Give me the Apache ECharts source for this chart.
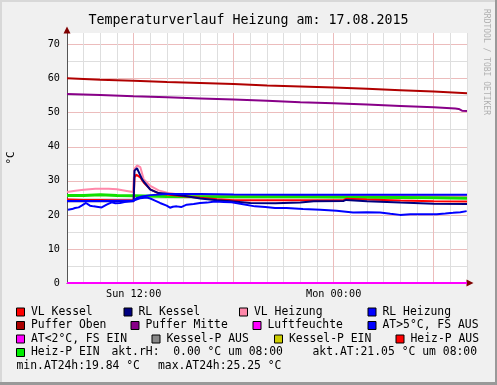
<!DOCTYPE html>
<html><head><meta charset="utf-8">
<script src="https://cdn.jsdelivr.net/npm/echarts@6/dist/echarts.min.js"></script>
<style>html,body{margin:0;padding:0;background:#f0f0f0}#c{width:497px;height:385px}</style>
</head><body><div id="c"></div>
<script>
// ---------- data (hours since Sun 00:00, °C) ----------
const chartTitle = 'Temperaturverlauf Heizung am: 17.08.2015';
const xLabelHours = [12, 24];
const xLabelTexts = ['Sun 12:00', 'Mon 00:00'];
const yLabelValues = [0, 10, 20, 30, 40, 50, 60, 70];

const pufferOben = [[8,60.1],[10,59.7],[12,59.4],[14,59.0],[16,58.7],[18,58.4],[20,58.0],[22,57.7],[24,57.4],[26,57.0],[28,56.6],[30,56.2],[32,55.7]];
const pufferMitte = [[8,55.5],[10,55.2],[12,54.8],[14,54.5],[16,54.2],[18,53.9],[20,53.5],[22,53.1],[24,52.8],[26,52.4],[28,52.0],[30,51.6],[31.3,51.2],[31.5,51.1],[31.7,50.6],[32,50.5]];
const vlHeizung = [[8,26.7],[8.5,27.1],[9,27.4],[9.7,27.7],[10.5,27.7],[11,27.5],[11.5,27.1],[11.95,26.7],[12.0,26.6],[12.05,33.5],[12.2,34.5],[12.4,34.0],[12.6,30.5],[13,28.5],[13.5,27.2],[14,26.5],[14.5,26.1],[15,25.9],[16,25.7],[20,25.6],[26,25.6],[32,25.5]];
const heizPEin = [[8,25.7],[9,25.7],[10,25.9],[11,25.7],[12,25.6],[14,25.4],[18,25.3],[22,25.3],[26,25.2],[30,25.0],[32,24.9]];
const vlKessel = [[8,24.5],[9,24.4],[10,24.4],[11,24.3],[12,24.3],[12.05,31.0],[12.15,31.8],[12.4,31.0],[12.6,29.5],[13,27.5],[13.5,26.3],[14,26.0],[15,25.5],[16,25.0],[17,24.6],[18,24.3],[20,24.3],[22,24.3],[24.6,24.4],[24.75,24.7],[26,24.5],[28,24.2],[30,24.0],[32,23.9]];
const rlKessel = [[8,24.0],[9,24.0],[10,24.0],[11,24.0],[12,24.0],[12.05,33.0],[12.2,33.7],[12.5,30.5],[12.6,29.8],[13,27.4],[13.5,26.4],[14,26.2],[15,25.6],[16,24.8],[17,24.3],[18,23.9],[19,23.5],[20.5,23.4],[22,23.6],[22.8,24.0],[24.6,24.1],[24.75,24.4],[26,24.0],[28,23.6],[30,23.3],[32,23.2]];
const rlHeizung = [[8,24.1],[10,24.1],[12,24.2],[12.2,25.0],[12.5,25.4],[13,25.8],[14,26.1],[16,26.1],[18,26.0],[22,25.9],[26,25.9],[30,25.9],[32,25.9]];
const aussenTemp = [[8.06,21.5],[8.3,21.7],[8.48,22.0],[8.7,22.2],[8.88,22.7],[9.14,23.5],[9.38,22.7],[9.6,22.5],[9.78,22.4],[10.08,22.2],[10.38,23.0],[10.68,23.7],[10.9,23.4],[11.18,23.5],[11.45,23.8],[11.7,23.9],[11.96,24.1],[12.2,24.6],[12.38,24.9],[12.78,25.1],[13.0,24.8],[13.18,24.4],[13.58,23.5],[13.98,22.7],[14.18,22.1],[14.35,22.4],[14.58,22.5],[14.85,22.3],[15.18,23.0],[15.6,23.2],[15.98,23.5],[16.4,23.6],[16.88,23.9],[17.4,23.8],[17.88,23.7],[18.48,23.2],[19.28,22.5],[19.9,22.3],[20.48,22.0],[21.18,22.0],[22.16,21.7],[23.2,21.5],[24.18,21.2],[25.16,20.7],[26.0,20.8],[26.78,20.7],[27.4,20.3],[27.98,20.0],[28.6,20.2],[29.18,20.2],[30.18,20.2],[30.7,20.4],[31.16,20.6],[31.6,20.8],[31.98,21.1]];
const luftfeuchte = [[8,0],[32,0]];

const legendRows = [
  ['VL Kessel', 'RL Kessel', 'VL Heizung', 'RL Heizung'],
  ['Puffer Oben', 'Puffer Mitte', 'Luftfeuchte', 'AT>5°C, FS AUS'],
  ['AT<2°C, FS EIN', 'Kessel-P AUS', 'Kessel-P EIN', 'Heiz-P AUS'],
  ['Heiz-P EIN']
];
const aktRH = 0.00, aktAT = 21.05, minAT24h = 19.84, maxAT24h = 25.25;
const watermark = 'RRDTOOL / TOBI OETIKER';

// ---------- styles / layout ----------
const MONO = "'DejaVu Sans Mono', monospace";
const legendColors = {
  'VL Kessel': '#ff0000', 'RL Kessel': '#000080', 'VL Heizung': '#ff88aa', 'RL Heizung': '#0000ff',
  'Puffer Oben': '#aa0000', 'Puffer Mitte': '#880088', 'Luftfeuchte': '#ff00ff', 'AT>5°C, FS AUS': '#0000ff',
  'AT<2°C, FS EIN': '#ff00ff', 'Kessel-P AUS': '#888888', 'Kessel-P EIN': '#cccc00', 'Heiz-P AUS': '#ff0000',
  'Heiz-P EIN': '#00ee00'
};
const rowY = [312, 325.5, 339, 352.5, 366];
const colTextX = [[31, 138.5, 254, 382.5], [31, 145.5, 267.5, 382.5], [31, 166.5, 289, 410.5], [31]];
const MAJOR = '#ecbcbc', MINOR = '#dedede';

const xGridColors = [MINOR, MINOR, MINOR, MINOR, MAJOR, MINOR];
const yGridColors = [];
for (let i = 0; i < 15; i++) yGridColors.push(i % 2 === 0 ? MAJOR : MINOR);
yGridColors.push('rgba(0,0,0,0)');

function fmt(v) { const s = v.toFixed(2); return s.length < 5 ? ' '.repeat(5 - s.length) + s : s; }

function line(name, data, color, width, z) {
  return { name, type: 'line', data, symbol: 'none', showSymbol: false, silent: true,
    lineStyle: { color, width }, itemStyle: { color }, z: z, animation: false };
}

const graphics = [];
// frame shading
graphics.push({ type: 'rect', shape: { x: 0, y: 0, width: 497, height: 2 }, style: { fill: '#d8d8d8' }, silent: true });
graphics.push({ type: 'rect', shape: { x: 0, y: 0, width: 2, height: 385 }, style: { fill: '#d8d8d8' }, silent: true });
graphics.push({ type: 'rect', shape: { x: 495, y: 0, width: 2, height: 385 }, style: { fill: '#999999' }, silent: true });
graphics.push({ type: 'rect', shape: { x: 0, y: 382, width: 497, height: 3 }, style: { fill: '#999999' }, silent: true });
// watermark
graphics.push({ type: 'text', x: 486, y: 9, rotation: -Math.PI / 2, silent: true,
  style: { text: watermark, fill: '#b0b0b0', font: "8px 'DejaVu Sans Mono'", textAlign: 'left', textVerticalAlign: 'middle' } });
// legend
legendRows.forEach((row, r) => {
  row.forEach((name, c) => {
    const tx = colTextX[r][c];
    graphics.push({ type: 'rect', silent: true, shape: { x: tx - 14.5, y: rowY[r] - 4, width: 8, height: 8 },
      style: { fill: legendColors[name], stroke: '#000', lineWidth: 1 } });
    graphics.push({ type: 'text', silent: true, x: tx, y: rowY[r],
      style: { text: name, fill: '#000', font: "11.4px 'DejaVu Sans Mono'", textVerticalAlign: 'middle' } });
  });
});
const infoItems = [
  { t: 'akt.rH: ' + fmt(aktRH) + ' °C um 08:00', x: 111.5, r: 3 },
  { t: 'akt.AT:' + fmt(aktAT) + ' °C um 08:00', x: 312.5, r: 3 },
  { t: 'min.AT24h:' + fmt(minAT24h) + ' °C', x: 16.5, r: 4 },
  { t: 'max.AT24h:' + fmt(maxAT24h) + ' °C', x: 158, r: 4 }
];
infoItems.forEach(it => graphics.push({ type: 'text', silent: true, x: it.x, y: rowY[it.r],
  style: { text: it.t, fill: '#000', font: "11.4px 'DejaVu Sans Mono'", textVerticalAlign: 'middle' } }));

const chart = echarts.init(document.getElementById('c'), null, { renderer: 'canvas' });
chart.setOption({
  animation: false,
  backgroundColor: '#f0f0f0',
  title: { text: chartTitle, left: 'center', top: 8,
    textStyle: { fontFamily: MONO, fontSize: 13.3, fontWeight: 'normal', color: '#000', lineHeight: 16 } },
  grid: { left: 67, right: 30, top: 33, bottom: 102, show: true, backgroundColor: '#ffffff', borderWidth: 0, containLabel: false, outerBoundsMode: 'none' },
  xAxis: [
    { type: 'value', min: 8, max: 32, interval: 1,
      axisLine: { show: true, onZero: false, lineStyle: { color: '#555', width: 1 } },
      axisTick: { show: false },
      axisLabel: { show: true, showMinLabel: true, showMaxLabel: true, hideOverlap: false, margin: 6, color: '#000', fontFamily: MONO, fontSize: 10.2,
        formatter: v => { const i = xLabelHours.indexOf(v); return i >= 0 ? xLabelTexts[i] : ''; } },
      splitLine: { show: true, showMinLine: true, showMaxLine: true, lineStyle: { color: xGridColors, width: 1 } } },
    { type: 'value', min: 8, max: 32, interval: 1, position: 'bottom',
      axisLine: { show: true, onZero: false, symbol: ['none', 'triangle'], symbolSize: [7, 7], symbolOffset: [0, 3], lineStyle: { color: '#800000', width: 0 } },
      axisTick: { show: false }, axisLabel: { show: false }, splitLine: { show: false } }
  ],
  yAxis: [
    { type: 'value', min: 0, max: 73.4, interval: 5,
      name: '°C', nameLocation: 'middle', nameRotate: 90, nameGap: 50,
      nameTextStyle: { fontFamily: MONO, fontSize: 11, color: '#000' },
      axisLine: { show: true, onZero: false, lineStyle: { color: '#555', width: 1 } },
      axisTick: { show: false },
      axisLabel: { show: true, margin: 7, color: '#000', fontFamily: MONO, fontSize: 10.2, hideOverlap: false,
        formatter: v => yLabelValues.indexOf(v) >= 0 ? String(v) : '' },
      splitLine: { show: true, showMinLine: true, showMaxLine: true, lineStyle: { color: yGridColors, width: 1 } } },
    { type: 'value', min: 0, max: 73.4, interval: 5, position: 'left',
      axisLine: { show: true, onZero: false, symbol: ['none', 'triangle'], symbolSize: [7, 7], symbolOffset: [0, 3], lineStyle: { color: '#800000', width: 0 } },
      axisTick: { show: false }, axisLabel: { show: false }, splitLine: { show: false } }
  ],
  series: [
    line('Puffer Oben', pufferOben, '#b00000', 2, 3),
    line('Puffer Mitte', pufferMitte, '#880088', 2, 3),
    line('VL Heizung', vlHeizung, '#ff88aa', 2, 3),
    line('Heiz-P EIN', heizPEin, '#11e000', 3, 4),
    line('VL Kessel', vlKessel, '#ff0000', 2, 5),
    line('RL Kessel', rlKessel, '#000080', 2, 6),
    line('RL Heizung', rlHeizung, '#0000ff', 2, 7),
    line('AT>5°C, FS AUS', aussenTemp, '#0000ff', 2, 8),
    line('Luftfeuchte', luftfeuchte, '#ff00ff', 2, 9)
  ],
  graphic: graphics
});
</script></body></html>
